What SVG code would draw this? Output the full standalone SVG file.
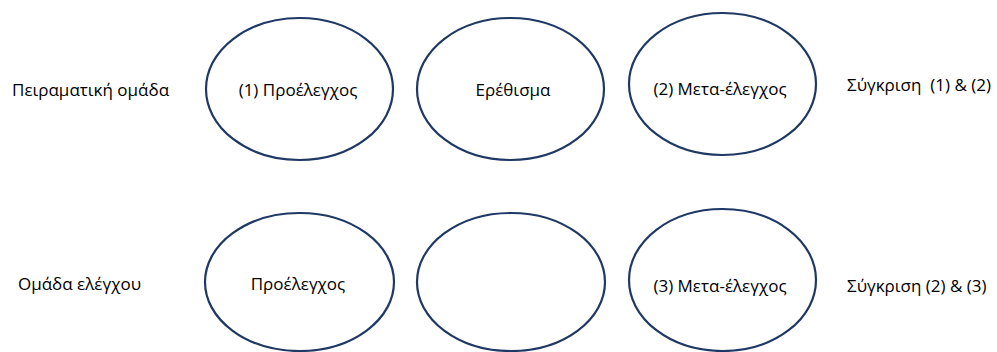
<svg xmlns="http://www.w3.org/2000/svg" width="997" height="352" viewBox="0 0 997 352">
<style>
.node ellipse{fill:#ffffff;stroke:#1f3864;stroke-width:2.2}
text{font-family:"Open Sans","Noto Sans","DejaVu Sans",sans-serif;font-size:17px;fill:#000000;white-space:pre}
.c{text-anchor:middle}
</style>
<rect width="997" height="352" fill="#ffffff"/>
<g id="connectors"></g>
<g id="label-experimental"><text x="12" y="96">Πειραματική ομάδα</text></g>
<g id="node-pretest1" class="node"><ellipse cx="299.5" cy="89" rx="93.5" ry="71"/><text class="c" x="298" y="96">(1) Προέλεγχος</text></g>
<g id="node-stimulus" class="node"><ellipse cx="510.5" cy="89" rx="93.5" ry="71"/><text class="c" x="513" y="96">Ερέθισμα</text></g>
<g id="node-posttest2" class="node"><ellipse cx="722.5" cy="84" rx="93.5" ry="71"/><text class="c" x="720" y="95">(2) Μετα-έλεγχος</text></g>
<g id="label-compare12"><text x="847" y="91">Σύγκριση  (1) &amp; (2)</text></g>
<g id="label-control"><text x="18" y="290">Ομάδα ελέγχου</text></g>
<g id="node-pretest" class="node"><ellipse cx="299.5" cy="282" rx="94.5" ry="69"/><text class="c" x="298" y="290">Προέλεγχος</text></g>
<g id="node-empty" class="node"><ellipse cx="511" cy="282" rx="94" ry="69"/></g>
<g id="node-posttest3" class="node"><ellipse cx="722.5" cy="280" rx="93.5" ry="71"/><text class="c" x="720" y="292">(3) Μετα-έλεγχος</text></g>
<g id="label-compare23"><text x="847" y="292">Σύγκριση (2) &amp; (3)</text></g>
</svg>
